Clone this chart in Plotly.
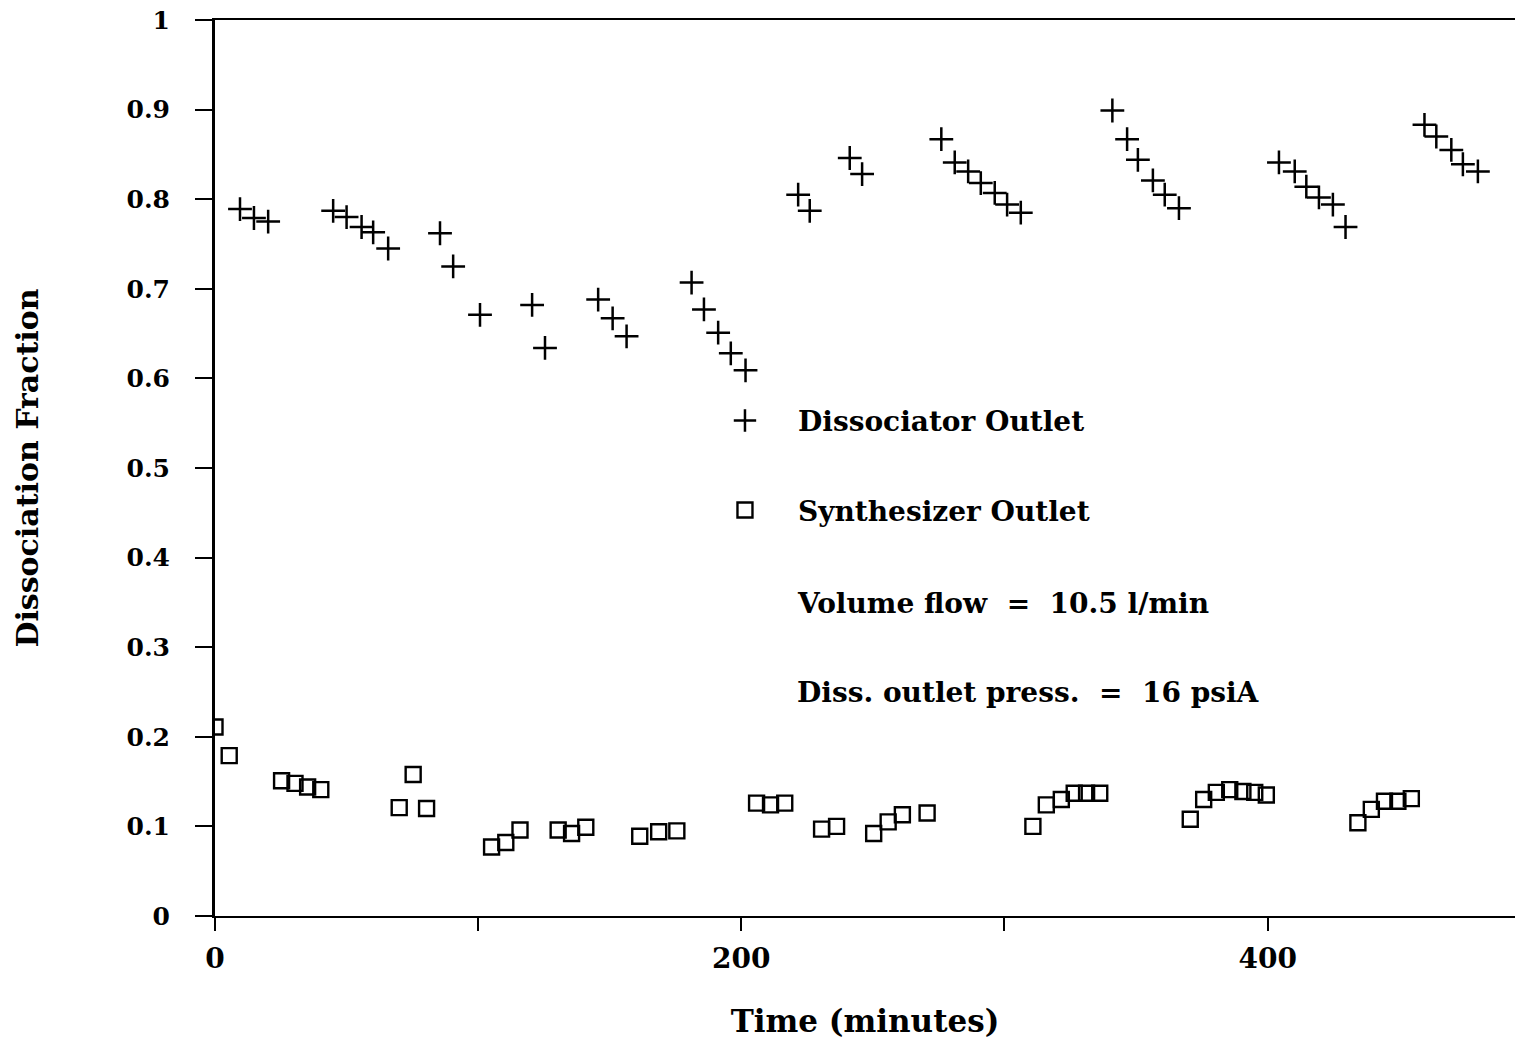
import plotly.graph_objects as go

# Dissociator outlet (+ markers)
diss_time = [9.5, 14.8, 20.2, 44.9, 50.0, 55.7, 60.1, 65.8, 85.5, 90.5, 100.7,
             120.5, 125.4, 145.6, 151.1, 156.4, 181.1, 185.8, 191.2, 196.0, 201.6,
             221.6, 226.0, 241.2, 245.9, 276.0, 281.1, 286.2, 291.0, 296.3, 301.0, 306.2,
             341.0, 346.6, 350.7, 356.4, 360.9, 366.3,
             404.3, 410.3, 414.7, 419.5, 424.8, 429.6,
             459.6, 464.1, 469.8, 474.2, 479.9]
diss_frac = [0.789, 0.779, 0.775, 0.787, 0.780, 0.769, 0.763, 0.745, 0.762, 0.725, 0.671,
             0.682, 0.634, 0.688, 0.667, 0.647, 0.707, 0.677, 0.651, 0.628, 0.609,
             0.805, 0.787, 0.846, 0.828, 0.867, 0.841, 0.831, 0.818, 0.807, 0.794, 0.785,
             0.899, 0.867, 0.844, 0.821, 0.805, 0.790,
             0.841, 0.831, 0.814, 0.802, 0.794, 0.769,
             0.883, 0.870, 0.855, 0.839, 0.831]

# Synthesizer outlet (square markers)
synth_time = [0.0, 5.4, 25.3, 30.4, 35.2, 40.2, 70.0, 75.3, 80.4,
              105.1, 110.5, 115.9, 130.4, 135.5, 140.9, 161.4, 168.6, 175.5,
              205.8, 211.1, 216.5, 230.5, 236.2, 250.3, 255.8, 261.2, 270.6,
              310.8, 315.9, 321.6, 326.5, 331.2, 336.2,
              370.6, 375.7, 380.5, 385.6, 390.6, 395.1, 399.5,
              434.3, 439.4, 444.4, 449.5, 454.6]
synth_frac = [0.211, 0.179, 0.151, 0.148, 0.144, 0.141, 0.121, 0.158, 0.120,
              0.077, 0.082, 0.096, 0.096, 0.092, 0.099, 0.089, 0.094, 0.095,
              0.126, 0.124, 0.126, 0.097, 0.100, 0.092, 0.105, 0.113, 0.115,
              0.100, 0.124, 0.130, 0.137, 0.137, 0.137,
              0.108, 0.130, 0.138, 0.141, 0.139, 0.138, 0.135,
              0.104, 0.119, 0.128, 0.128, 0.131]

x_tickvals = [0, 100, 200, 300, 400]
x_ticktext = ["0", "", "200", "", "400"]
y_tickvals = [0, 0.1, 0.2, 0.3, 0.4, 0.5, 0.6, 0.7, 0.8, 0.9, 1]
y_ticktext = ["0", "0.1", "0.2", "0.3", "0.4", "0.5", "0.6", "0.7", "0.8", "0.9", "1"]

FONT = "DejaVu Serif"

fig = go.Figure()
fig.add_trace(go.Scatter(
    x=diss_time, y=diss_frac, mode="markers", name="Dissociator Outlet",
    legendgroup="a",
    marker=dict(symbol="cross-thin-open", size=17, color="black",
                line=dict(color="black", width=2.5)),
))
fig.add_trace(go.Scatter(
    x=synth_time, y=synth_frac, mode="markers", name="Synthesizer Outlet",
    legendgroup="b",
    marker=dict(symbol="square-open", size=15, color="black",
                line=dict(color="black", width=2.4)),
))

fig.update_layout(
    width=1515, height=1039,
    margin=dict(l=215, r=0, t=20, b=123),
    paper_bgcolor="white", plot_bgcolor="white",
    font=dict(family=FONT, size=24, color="black", weight="bold"),
    showlegend=True,
    legend=dict(x=0.3669, y=0.5805, xanchor="left", yanchor="top",
                bgcolor="rgba(0,0,0,0)", tracegroupgap=50,
                traceorder="grouped", itemwidth=96,
                font=dict(family=FONT, size=28, color="black", weight="bold")),
    xaxis=dict(range=[0, 494], tickvals=x_tickvals, ticktext=x_ticktext,
               ticks="outside", ticklen=13, tickwidth=2, tickcolor="black",
               ticklabelstandoff=3,
               tickfont=dict(family=FONT, size=28, weight="bold"),
               showline=True, linecolor="black", linewidth=2, mirror=True,
               showgrid=False, zeroline=False,
               title=dict(text="Time (minutes)", standoff=40,
                          font=dict(family=FONT, size=31, weight="bold"))),
    yaxis=dict(range=[0, 1], tickvals=y_tickvals, ticktext=y_ticktext,
               ticks="outside", ticklen=17, tickwidth=2, tickcolor="black",
               ticklabelstandoff=20,
               tickfont=dict(family=FONT, size=25, weight="bold"),
               showline=True, linecolor="black", linewidth=3,
               showgrid=False, zeroline=False,
               title=dict(text="Dissociation Fraction", standoff=80,
                          font=dict(family=FONT, size=30, weight="bold"))),
)

fig.add_annotation(x=0.4462, y=0.349, xref="paper", yref="paper",
                   xanchor="left", yanchor="middle", showarrow=False,
                   text="Volume flow  =  10.5 l/min",
                   font=dict(family=FONT, size=28, weight="bold"))
fig.add_annotation(x=0.4462, y=0.250, xref="paper", yref="paper",
                   xanchor="left", yanchor="middle", showarrow=False,
                   text="Diss. outlet press.  =  16 psiA",
                   font=dict(family=FONT, size=28, weight="bold"))

fig.write_html("out.html")
